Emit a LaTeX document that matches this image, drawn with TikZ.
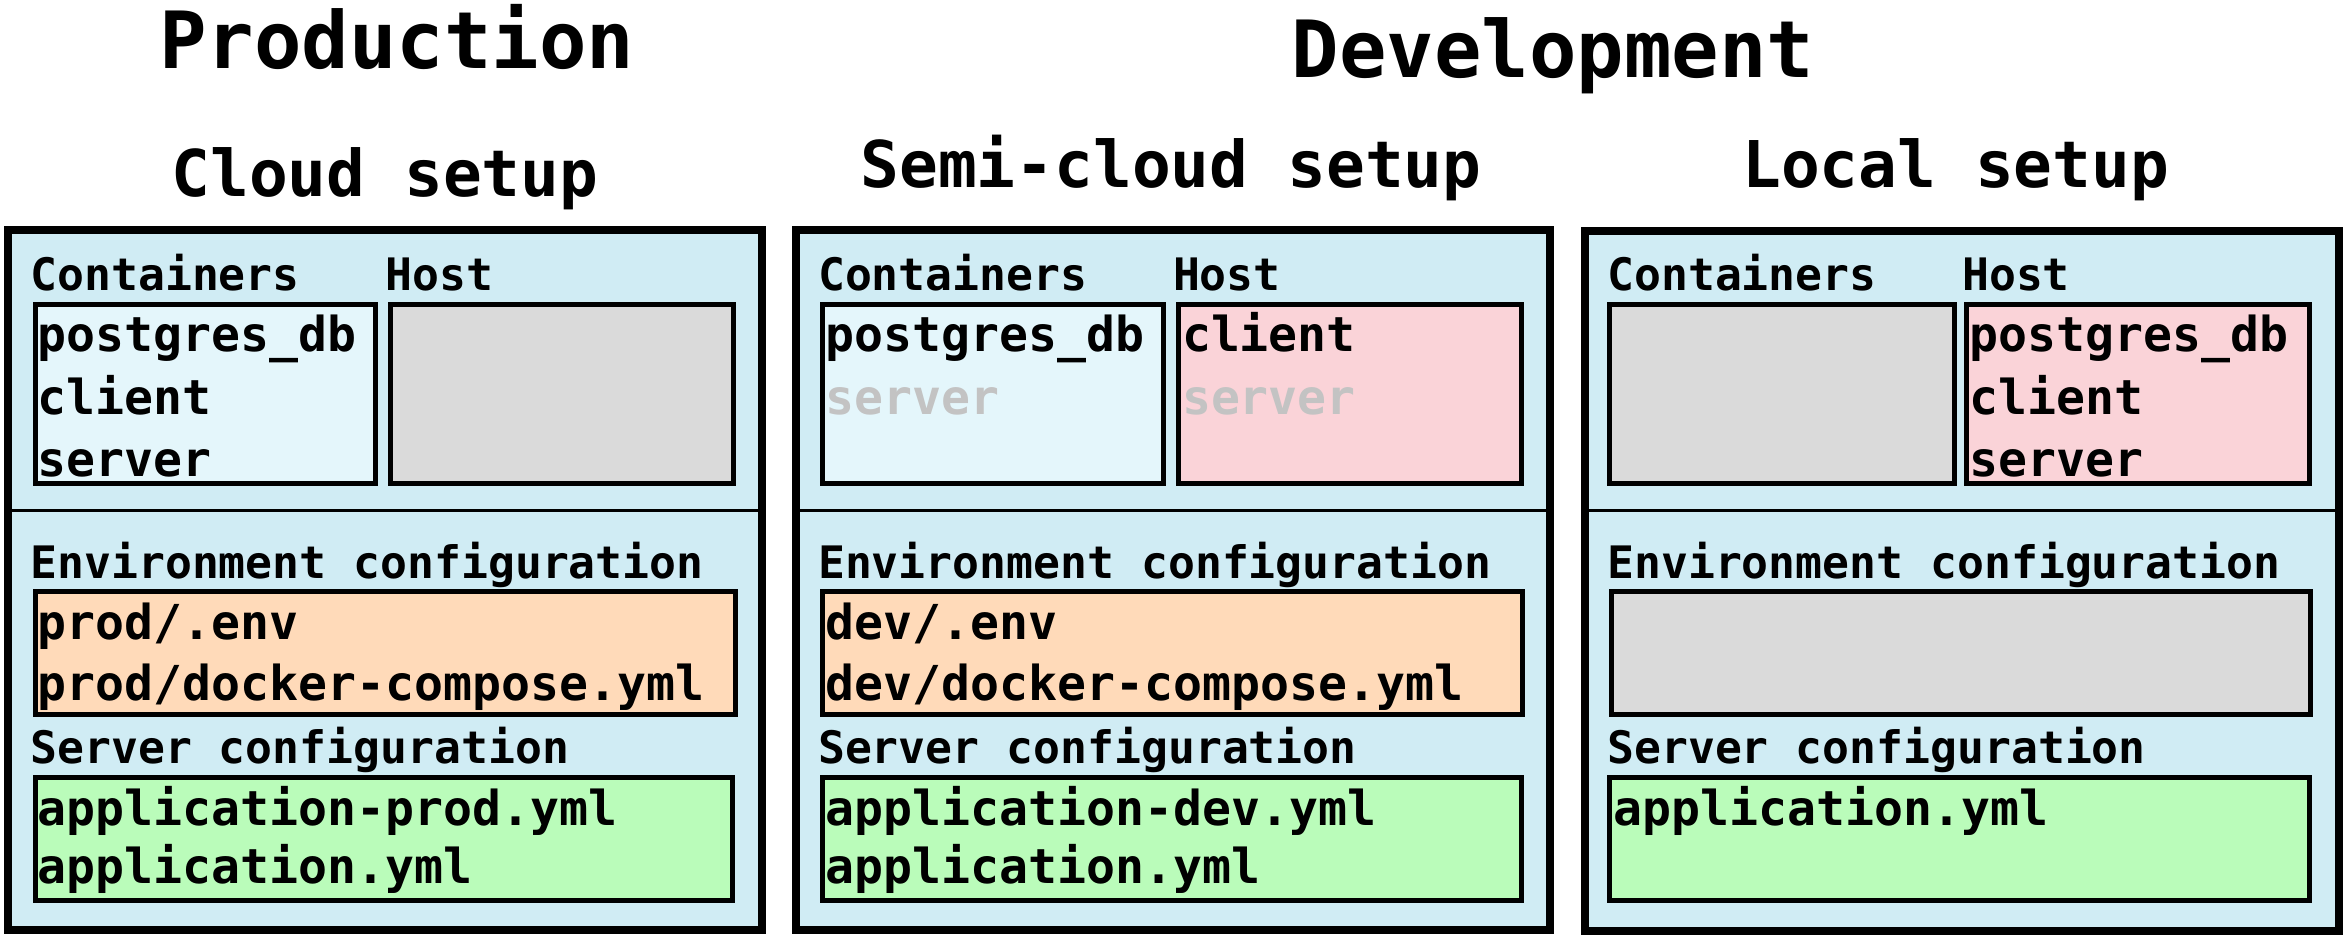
\documentclass[tikz,border=0pt]{standalone}
\usepackage{fontspec}
\setmonofont{DejaVu Sans Mono}
\usetikzlibrary{positioning}

\definecolor{panelblue}{RGB}{208,236,244}
\definecolor{contblue}{RGB}{228,246,251}
\definecolor{hostgray}{RGB}{218,218,218}
\definecolor{hostpink}{RGB}{250,211,216}
\definecolor{envorange}{RGB}{255,218,185}
\definecolor{srvgreen}{RGB}{186,252,186}
\definecolor{offgray}{RGB}{195,195,195}

\tikzset{
  panel/.style={draw=black, fill=panelblue, line width=3pt},
  inbox/.style={draw=black, line width=1.9pt},
  divider/.style={draw=black, line width=1.1pt},
  bigtitle/.style={font=\ttfamily\bfseries\fontsize{30}{30}\selectfont, inner sep=0pt, anchor=base},
  subtitle/.style={font=\ttfamily\bfseries\fontsize{24.5}{24.5}\selectfont, inner sep=0pt, anchor=base},
  grouplbl/.style={font=\ttfamily\bfseries\fontsize{17}{17}\selectfont, inner sep=0pt, anchor=base west},
  item/.style={font=\ttfamily\bfseries\fontsize{18.3}{18.3}\selectfont, inner sep=0pt, anchor=base west},
  offitem/.style={item, text=offgray}
}

\begin{document}
\begin{tikzpicture}[x=0.02cm, y=-0.02cm]
\useasboundingbox (0,0) rectangle (1568,633);

% titles
\node (prodtitle) at (265,46) [bigtitle] {Production};
\node (devtitle) at (1037,52) [bigtitle] {Development};
\node (cloudtitle) at (257,131) [subtitle] {Cloud setup};
\node (semititle) at (782,125) [subtitle] {Semi-cloud setup};
\node (localtitle) at (1306,125) [subtitle] {Local setup};

% cloud setup
\draw[panel] (5.3,153.6) rectangle (509,621);
\draw[divider] (5.3,341) -- (509,341);
\node (c1lbl) at (20,194) [grouplbl] {Containers};
\node (h1lbl) at (257,194) [grouplbl] {Host};
\draw[inbox, fill=contblue] (23.4,203.3) rectangle (251,323);
\draw[inbox, fill=hostgray] (261,203.3) rectangle (490,323);
\node (c1a) at (25,235) [item] {postgres\_db};
\node (c1b) at (25,277) [item] {client};
\node (c1c) at (25,318) [item] {server};
\node (e1lbl) at (20,386) [grouplbl] {Environment configuration};
\draw[inbox, fill=envorange] (23.4,395) rectangle (491,477);
\node (e1a) at (25,427) [item] {prod/.env};
\node (e1b) at (25,468) [item] {prod/docker-compose.yml};
\node (s1lbl) at (20,510) [grouplbl] {Server configuration};
\draw[inbox, fill=srvgreen] (23.4,519) rectangle (489,601.5);
\node (s1a) at (25,551) [item] {application-prod.yml};
\node (s1b) at (25,590) [item] {application.yml};

% semi-cloud setup
\draw[panel] (531.6,153.6) rectangle (1035,621);
\draw[divider] (531.6,341) -- (1035,341);
\node (c2lbl) at (546,194) [grouplbl] {Containers};
\node (h2lbl) at (783,194) [grouplbl] {Host};
\draw[inbox, fill=contblue] (549,203.3) rectangle (777,323);
\draw[inbox, fill=hostpink] (787,203.3) rectangle (1016,323);
\node (c2a) at (551,235) [item] {postgres\_db};
\node (c2b) at (551,277) [offitem] {server};
\node (h2a) at (789,235) [item] {client};
\node (h2b) at (789,277) [offitem] {server};
\node (e2lbl) at (546,386) [grouplbl] {Environment configuration};
\draw[inbox, fill=envorange] (549,395) rectangle (1017,477);
\node (e2a) at (551,427) [item] {dev/.env};
\node (e2b) at (551,468) [item] {dev/docker-compose.yml};
\node (s2lbl) at (546,510) [grouplbl] {Server configuration};
\draw[inbox, fill=srvgreen] (549,519) rectangle (1016,601.5);
\node (s2a) at (551,551) [item] {application-dev.yml};
\node (s2b) at (551,590) [item] {application.yml};

% local setup
\draw[panel] (1058.5,154.5) rectangle (1562,621.7);
\draw[divider] (1058.5,341) -- (1562,341);
\node (c3lbl) at (1073,194) [grouplbl] {Containers};
\node (h3lbl) at (1310,194) [grouplbl] {Host};
\draw[inbox, fill=hostgray] (1075,203.3) rectangle (1305,323);
\draw[inbox, fill=hostpink] (1313,203.3) rectangle (1542,323);
\node (h3a) at (1315,235) [item] {postgres\_db};
\node (h3b) at (1315,277) [item] {client};
\node (h3c) at (1315,318) [item] {server};
\node (e3lbl) at (1073,386) [grouplbl] {Environment configuration};
\draw[inbox, fill=hostgray] (1076,395) rectangle (1543,477);
\node (s3lbl) at (1073,510) [grouplbl] {Server configuration};
\draw[inbox, fill=srvgreen] (1075,519) rectangle (1542,601.5);
\node (s3a) at (1077,551) [item] {application.yml};

\end{tikzpicture}
\end{document}
